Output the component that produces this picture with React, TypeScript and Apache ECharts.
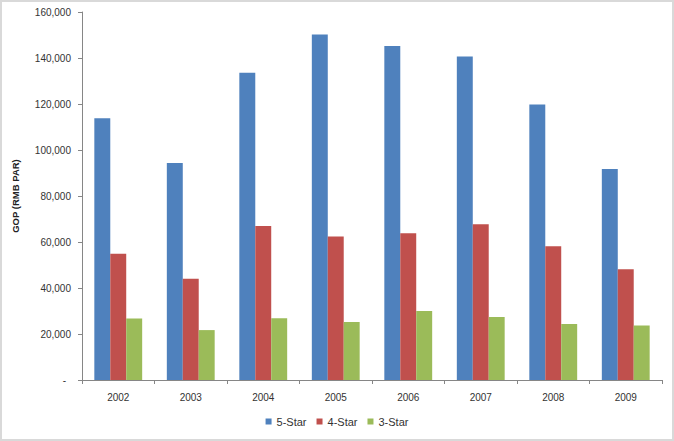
import React, { useEffect, useRef } from "react";
import * as echarts from "echarts";

const years = ["2002", "2003", "2004", "2005", "2006", "2007", "2008", "2009"];
const fiveStar = [113800, 94300, 133600, 150200, 145200, 140700, 119800, 91700];
const fourStar = [54900, 44000, 67000, 62400, 63800, 67700, 58200, 48200];
const threeStar = [26700, 21700, 26800, 25200, 30000, 27400, 24300, 23700];
const seriesNames = ["5-Star", "4-Star", "3-Star"];
const colors = ["#4F81BD", "#C0504D", "#9BBB59"];

export default function App() {
  const ref = useRef<HTMLDivElement>(null);
  useEffect(() => {
    if (!ref.current) return;
    const chart = echarts.init(ref.current, null, { renderer: "svg" });
    const font = "'Liberation Sans', Arial, sans-serif";
    const data = [fiveStar, fourStar, threeStar];
    chart.setOption({
      animation: false,
      backgroundColor: "#ffffff",
      textStyle: { fontFamily: font },
      graphic: [
        {
          type: "rect",
          shape: { x: 1, y: 1, width: 672, height: 439 },
          style: { fill: "none", stroke: "#d9d9d9", lineWidth: 2 },
          silent: true,
        },
      ],
      grid: { left: 82, right: 12, top: 12, bottom: 61 },
      legend: {
        data: seriesNames,
        bottom: 9,
        left: "center",
        itemWidth: 6,
        itemHeight: 6,
        itemGap: 10,
        icon: "rect",
        textStyle: { fontFamily: font, fontSize: 11, color: "#333" },
      },
      xAxis: {
        type: "category",
        data: years,
        axisLine: { lineStyle: { color: "#868686", width: 1 } },
        axisTick: { show: true, length: 4, alignWithLabel: false, lineStyle: { color: "#868686" } },
        axisLabel: { fontFamily: font, fontSize: 10, color: "#333", margin: 12 },
        splitLine: { show: false },
      },
      yAxis: {
        type: "value",
        min: 0,
        max: 160000,
        interval: 20000,
        name: "GOP (RMB PAR)",
        nameLocation: "middle",
        nameGap: 62,
        nameRotate: 90,
        nameTextStyle: { fontFamily: font, fontSize: 9.5, fontWeight: "bold", color: "#222" },
        axisLine: { show: true, lineStyle: { color: "#868686", width: 1 } },
        axisTick: { show: true, length: 4, lineStyle: { color: "#868686" } },
        splitLine: { show: false },
        axisLabel: {
          fontFamily: font,
          fontSize: 10,
          color: "#333",
          margin: 11,
          formatter: (v: number) => (v === 0 ? "{z|-}" : v.toLocaleString("en-US")),
          rich: { z: { fontFamily: font, fontSize: 10, color: "#333", padding: [0, 5, 0, 0] } },
        },
      },
      series: seriesNames.map((name, i) => ({
        name,
        type: "bar",
        data: data[i],
        itemStyle: { color: colors[i] },
        barGap: "0%",
        barCategoryGap: "34%",
      })),
    });
    return () => chart.dispose();
  }, []);
  return (
    <div
      ref={ref}
      style={{ position: "absolute", left: 0, top: 0, width: 674, height: 441 }}
    />
  );
}
